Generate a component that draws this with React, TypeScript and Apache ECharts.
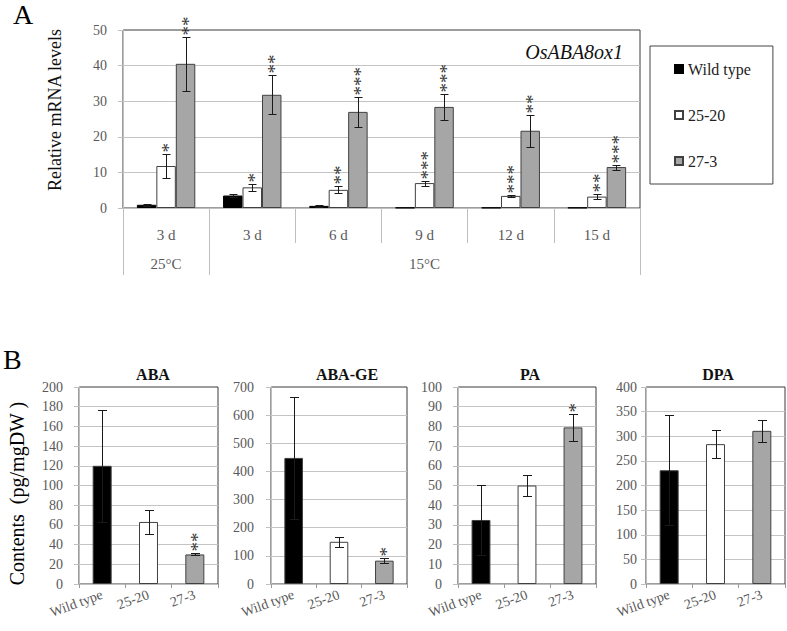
import React, { useEffect, useRef } from 'react';
import * as echarts from 'echarts';

const SERIF = 'Liberation Serif';

// ---------- Panel A data ----------
const timeCats = ['3 d', '3 d', '6 d', '9 d', '12 d', '15 d'];
const tempLabels = ['25°C', '15°C'];
const tempStart = [0, 1];
const tempEnd = [1, 6];
const seriesNames = ['Wild type', '25-20', '27-3'];
const wtMean = [0.9, 3.5, 0.6, 0.1, 0.1, 0.1];
const wtErr = [0.2, 0.3, 0.2, 0, 0, 0];
const l2520Mean = [11.8, 5.8, 5.1, 7.0, 3.4, 3.2];
const l2520Err = [3.5, 0.9, 1.0, 0.7, 0.2, 0.8];
const l273Mean = [40.5, 31.8, 27.0, 28.4, 21.7, 11.5];
const l273Err = [7.6, 5.5, 4.2, 3.6, 4.5, 0.7];
const wtStars = [0, 0, 0, 0, 0, 0];
const l2520Stars = [1, 1, 2, 3, 3, 2];
const l273Stars = [2, 2, 3, 3, 2, 3];

// ---------- Panel B data ----------
const bCats = ['Wild type', '25-20', '27-3'];
const abaMean = [120, 63, 30];
const abaErr = [57, 12, 1];
const abaStars = [0, 0, 2];
const abageMean = [448, 150, 83];
const abageErr = [216, 17, 9];
const abageStars = [0, 0, 1];
const paMean = [32.5, 50, 79.5];
const paErr = [18, 5.3, 6.7];
const paStars = [0, 0, 1];
const dpaMean = [231, 284, 311];
const dpaErr = [112, 29, 22];
const dpaStars = [0, 0, 0];
const bTitles = ['ABA', 'ABA-GE', 'PA', 'DPA'];
const bMax = [200, 700, 100, 400];
const bInterval = [20, 100, 10, 50];

const FILLS = ['#000000', '#ffffff', '#a6a6a6'];
const EDGE = '#404040';
const GRIDC = '#c4c4c4';
const TICKTXT = '#595959';

function errorSeries(
  xAxisIndex: number,
  yAxisIndex: number,
  means: number[],
  errs: number[],
  stars: number[],
  k: number,
  n: number,
  barFrac: number,
  capW: number
): any {
  return {
    type: 'custom',
    name: 'err' + xAxisIndex + '_' + k,
    xAxisIndex,
    yAxisIndex,
    z: 10,
    silent: true,
    data: means.map((m, i) => [i, m, errs[i], stars[i]]),
    encode: { x: 0, y: 1 },
    renderItem: (params: any, api: any) => {
      const i = api.value(0) as number;
      const m = api.value(1) as number;
      const e = api.value(2) as number;
      const s = api.value(3) as number;
      const bandW = (api.size([1, 0]) as number[])[0];
      const bw = bandW * barFrac;
      const c = api.coord([i, m]);
      const x = Math.round(c[0] + (k - (n - 1) / 2) * bw) + 0.5;
      const yTop = Math.round(api.coord([i, m + e])[1]) + 0.5;
      const yBot = Math.round(api.coord([i, Math.max(0, m - e)])[1]) + 0.5;
      const st = { stroke: '#1a1a1a', lineWidth: 1 };
      const children: any[] = [];
      if (e > 0) {
        children.push({ type: 'line', shape: { x1: x, y1: yTop, x2: x, y2: yBot }, style: st });
        children.push({ type: 'line', shape: { x1: x - capW / 2, y1: yTop, x2: x + capW / 2, y2: yTop }, style: st });
        children.push({ type: 'line', shape: { x1: x - capW / 2, y1: yBot, x2: x + capW / 2, y2: yBot }, style: st });
      }
      if (s > 0) {
        // stacked asterisks: one text run, turned upright
        children.push({
          type: 'text',
          x: x + 2,
          y: yTop - 2,
          rotation: Math.PI / 2,
          style: {
            text: '*'.repeat(s),
            x: 0,
            y: 0,
            align: 'left',
            verticalAlign: 'middle',
            fontFamily: SERIF,
            fontSize: 19,
            fill: '#333',
          },
        });
      }
      return { type: 'group', children };
    },
  };
}

export default function App() {
  const ref = useRef<HTMLDivElement>(null);

  useEffect(() => {
    if (!ref.current) return;
    const chart = echarts.init(ref.current, undefined, { renderer: 'svg' });

    const bGrids = [
      { left: 79, top: 387, width: 139, height: 197 },
      { left: 271, top: 387, width: 136, height: 197 },
      { left: 458, top: 387, width: 138, height: 197 },
      { left: 646, top: 387, width: 139, height: 197 },
    ];
    const bTitleX = [153, 347, 530, 718];
    const bLabelMargin = [16, 17, 16, 9];
    const bMeans = [abaMean, abageMean, paMean, dpaMean];
    const bErrs = [abaErr, abageErr, paErr, dpaErr];
    const bStars = [abaStars, abageStars, paStars, dpaStars];

    const gridBase = { show: true, borderColor: '#3a3a3a', borderWidth: 1, backgroundColor: 'transparent', containLabel: false };

    const yTickLabel = { fontFamily: SERIF, fontSize: 14, color: TICKTXT };

    const option: any = {
      animation: false,
      backgroundColor: '#ffffff',
      textStyle: { fontFamily: SERIF },
      title: [
        { text: 'A', left: 13, top: 0, padding: 0, textStyle: { fontFamily: SERIF, fontSize: 28, fontWeight: 'normal', color: '#000' } },
        { text: 'B', left: 3, top: 345, padding: 0, textStyle: { fontFamily: SERIF, fontSize: 28, fontWeight: 'normal', color: '#000' } },
        { text: 'OsABA8ox1', left: 623, top: 42, padding: 0, textAlign: 'right', textStyle: { fontFamily: SERIF, fontSize: 20, fontStyle: 'italic', fontWeight: 'normal', color: '#111' } },
        ...bTitles.map((t, i) => ({
          text: t,
          left: bTitleX[i],
          top: 366,
          padding: 0,
          textAlign: 'center',
          textStyle: { fontFamily: SERIF, fontSize: 16, fontWeight: 'bold', color: '#111' },
        })),
      ],
      legend: {
        data: seriesNames,
        orient: 'vertical',
        left: 650,
        top: 46,
        padding: [15, 22, 15, 24],
        borderColor: '#444',
        borderWidth: 1,
        itemGap: 30,
        itemWidth: 8,
        itemHeight: 8,
        icon: 'rect',
        textStyle: { fontFamily: SERIF, fontSize: 16, lineHeight: 16, color: '#222' },
      },
      grid: [
        { ...gridBase, left: 123, top: 30, width: 517, height: 178 },
        ...bGrids.map((g) => ({ ...gridBase, ...g })),
      ],
      xAxis: [
        {
          type: 'category',
          gridIndex: 0,
          data: timeCats,
          boundaryGap: true,
          axisLine: { lineStyle: { color: '#bfbfbf' } },
          axisTick: { show: true, length: 35, interval: 0, lineStyle: { color: '#bfbfbf' } },
          axisLabel: { interval: 0, margin: 19, fontFamily: SERIF, fontSize: 15, color: TICKTXT },
          splitLine: { show: false },
        },
        {
          type: 'value',
          gridIndex: 0,
          min: 0,
          max: 6,
          position: 'bottom',
          offset: 35,
          axisLine: { show: false },
          splitLine: { show: false },
          axisTick: { show: true, length: 32, customValues: [...tempStart, tempEnd[tempEnd.length - 1]], lineStyle: { color: '#bfbfbf' } },
          axisLabel: {
            customValues: tempStart.map((s, i) => (s + tempEnd[i]) / 2),
            formatter: (v: number) => {
              const idx = tempStart.findIndex((s, i) => Math.abs((s + tempEnd[i]) / 2 - v) < 1e-6);
              return idx >= 0 ? tempLabels[idx] : '';
            },
            margin: 13,
            fontFamily: SERIF,
            fontSize: 15,
            color: TICKTXT,
          },
        },
        ...bGrids.map((g, i) => ({
          type: 'category',
          gridIndex: i + 1,
          data: bCats,
          axisLine: { lineStyle: { color: '#bfbfbf' } },
          axisTick: { show: true, length: 4, interval: 0, lineStyle: { color: '#999' } },
          axisLabel: { interval: 0, rotate: 20, margin: 10, fontFamily: SERIF, fontSize: 14, color: TICKTXT },
          splitLine: { show: false },
        })),
      ],
      yAxis: [
        {
          type: 'value',
          gridIndex: 0,
          min: 0,
          max: 50,
          interval: 10,
          name: 'Relative mRNA levels',
          nameLocation: 'middle',
          nameGap: 59,
          nameTextStyle: { fontFamily: SERIF, fontSize: 18, color: '#111', padding: [0, 0, 0, 18] },
          axisLine: { show: true, lineStyle: { color: '#bfbfbf' } },
          axisTick: { show: true, length: 5, lineStyle: { color: '#bfbfbf' } },
          axisLabel: { ...yTickLabel, margin: 16 },
          splitLine: { show: true, showMaxLine: false, lineStyle: { color: GRIDC } },
        },
        ...bGrids.map((g, i) => ({
          type: 'value',
          gridIndex: i + 1,
          min: 0,
          max: bMax[i],
          interval: bInterval[i],
          name: i === 0 ? 'Contents  (pg/mgDW )' : '',
          nameLocation: 'middle',
          nameGap: 52,
          nameTextStyle: { fontFamily: SERIF, fontSize: 20, color: '#000', padding: [0, 16, 0, 0] },
          axisLine: { show: true, lineStyle: { color: '#bfbfbf' } },
          axisTick: { show: true, length: 5, lineStyle: { color: '#bfbfbf' } },
          axisLabel: { ...yTickLabel, margin: bLabelMargin[i] },
          splitLine: { show: true, showMaxLine: false, lineStyle: { color: GRIDC } },
        })),
      ],
      series: [
        {
          type: 'bar', name: seriesNames[0], xAxisIndex: 0, yAxisIndex: 0, data: wtMean,
          barWidth: '22.6%', barGap: '0%',
          itemStyle: { color: FILLS[0], borderColor: '#000', borderWidth: 1 },
        },
        {
          type: 'bar', name: seriesNames[1], xAxisIndex: 0, yAxisIndex: 0, data: l2520Mean,
          barWidth: '22.6%', barGap: '0%',
          itemStyle: { color: FILLS[1], borderColor: EDGE, borderWidth: 1 },
        },
        {
          type: 'bar', name: seriesNames[2], xAxisIndex: 0, yAxisIndex: 0, data: l273Mean,
          barWidth: '22.6%', barGap: '0%',
          itemStyle: { color: FILLS[2], borderColor: EDGE, borderWidth: 1 },
        },
        errorSeries(0, 0, wtMean, wtErr, wtStars, 0, 3, 0.226, 8),
        errorSeries(0, 0, l2520Mean, l2520Err, l2520Stars, 1, 3, 0.226, 8),
        errorSeries(0, 0, l273Mean, l273Err, l273Stars, 2, 3, 0.226, 8),
        ...bGrids.map((g, i) => ({
          type: 'bar',
          name: bTitles[i],
          xAxisIndex: i + 2,
          yAxisIndex: i + 1,
          barWidth: '41%',
          data: bMeans[i].map((v, j) => ({ value: v, itemStyle: { color: FILLS[j] } })),
          itemStyle: { borderColor: EDGE, borderWidth: 1 },
        })),
        ...bGrids.map((g, i) => errorSeries(i + 2, i + 1, bMeans[i], bErrs[i], bStars[i], 0, 1, 0.41, 9)),
      ],
    };

    chart.setOption(option);
    return () => chart.dispose();
  }, []);

  return (
    <div
      ref={ref}
      style={{ position: 'fixed', left: 0, top: 0, width: 787, height: 631, background: '#fff' }}
    />
  );
}
